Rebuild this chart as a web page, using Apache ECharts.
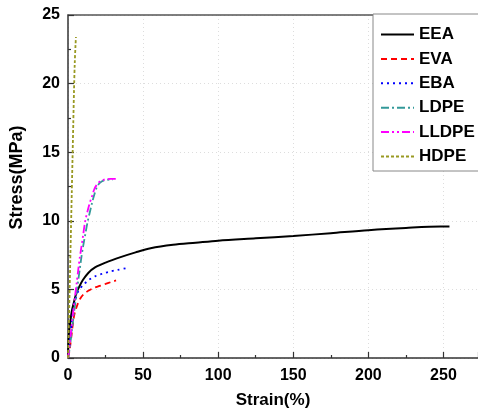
<!DOCTYPE html>
<html>
<head>
<meta charset="utf-8">
<script src="https://cdn.jsdelivr.net/npm/echarts@6/dist/echarts.min.js"></script>
<style>html,body{margin:0;padding:0;background:#fff;}#c{width:478px;height:419px;}</style>
</head>
<body>
<div id="c"></div>
<script>
const seriesNames = ['EEA', 'EVA', 'EBA', 'LDPE', 'LLDPE', 'HDPE'];
const xTicks = [0, 50, 100, 150, 200, 250];
const yTicks = [0, 5, 10, 15, 20, 25];

const eea = [[0,0],[0.3,1.0],[0.8,2.0],[1.5,2.6],[2.5,3.4],[3.8,4.0],[5.5,4.7],[7.5,5.2],[10,5.7],[13.5,6.2],[18,6.6],[25,6.95],[35,7.35],[45,7.7],[55,8.0],[70,8.25],[85,8.4],[100,8.55],[125,8.72],[150,8.89],[175,9.1],[200,9.32],[225,9.48],[248,9.58],[254,9.58]];
const eva = [[0,0],[0.8,0.4],[1.5,0.9],[2.5,1.8],[3.5,2.7],[4.5,3.3],[6,3.8],[8,4.3],[10,4.6],[13.5,4.9],[17,5.1],[21,5.25],[25,5.4],[29,5.55],[32,5.65]];
const eba = [[0,0],[0.8,0.6],[1.5,1.4],[2.5,2.6],[3.5,3.5],[5,4.3],[7,4.9],[10,5.3],[14,5.7],[18,5.95],[23,6.15],[28,6.3],[33,6.42],[39,6.55]];
const ldpe = [[0,0],[1,0.6],[2,1.5],[3,2.4],[4,3.3],[5,4.1],[6,5.0],[7,5.8],[8,6.6],[9,7.4],[10,8.1],[11.5,9.0],[13,9.9],[14.5,10.6],[16,11.3],[17.5,11.9],[19,12.4],[21,12.75],[24,12.95],[28,13.0],[30,13.0]];
const lldpe = [[0,0],[0.8,0.7],[1.8,1.7],[2.8,2.7],[3.8,3.7],[4.8,4.6],[5.8,5.5],[6.8,6.4],[7.8,7.3],[8.8,8.0],[10,8.9],[11.5,10.0],[13,10.7],[14.5,11.3],[16,11.8],[17.5,12.3],[19,12.6],[21,12.85],[24,13.0],[28,13.05],[33,13.05]];
const hdpe = [[0,0],[0.5,2],[1,4.5],[1.5,7],[2,9.5],[2.5,12],[3,14.5],[3.5,17],[4,19.5],[4.5,21.5],[5,22.8],[5.3,23.4]];

const seriesData = [eea, eva, eba, ldpe, lldpe, hdpe];
const colors = ['#000000', '#ff0000', '#0000ff', '#339999', '#ff00ff', '#999922'];
const dashes = ['solid', [6,4], [2,4], [8,3,2,3], [8,3,2,3,2,3], [3,2]];

const FONT = '"Liberation Sans", Arial, sans-serif';
const chart = echarts.init(document.getElementById('c'), null, {renderer: 'canvas'});
chart.setOption({
  animation: false,
  backgroundColor: '#fff',
  grid: {left: 66, top: 15, right: 0, bottom: 61, containLabel: false},
  legend: {
    orient: 'vertical',
    left: 373, top: 14,
    padding: [12, 4, 6, 7],
    itemWidth: 33, itemHeight: 17, itemGap: 7.4,
    borderColor: '#888', borderWidth: 1,
    backgroundColor: '#fff',
    itemStyle: {opacity: 0},
    data: seriesNames,
    textStyle: {fontFamily: FONT, fontWeight: 'bold', fontSize: 17, color: '#000', lineHeight: 17}
  },
  xAxis: [{
    type: 'value', min: 0, max: 273, interval: 50,
    name: 'Strain(%)', nameLocation: 'middle', nameGap: 34,
    nameTextStyle: {fontFamily: FONT, fontWeight: 'bold', fontSize: 17, color: '#000'},
    axisLine: {show: true, lineStyle: {color: '#333', width: 1.5}},
    axisTick: {show: true, inside: true, length: 6, lineStyle: {color: '#333', width: 1.2}},
    minorTick: {show: true, splitNumber: 2, length: 3, lineStyle: {color: '#333', width: 1.2}},
    axisLabel: {fontFamily: FONT, fontWeight: 'bold', fontSize: 16, color: '#000', margin: 10, showMaxLabel: false,
      formatter: v => xTicks.includes(v) ? String(v) : ''},
    splitLine: {show: true, lineStyle: {color: '#ddd', type: [1,3], width: 1}}
  }, {
    type: 'value', min: 0, max: 273, position: 'top',
    axisLine: {show: true, lineStyle: {color: '#555', width: 1.5}},
    axisTick: {show: false}, axisLabel: {show: false}, splitLine: {show: false}
  }],
  yAxis: {
    type: 'value', min: 0, max: 25, interval: 5,
    name: 'Stress(MPa)', nameLocation: 'middle', nameGap: 42, nameRotate: 90,
    nameTextStyle: {fontFamily: FONT, fontWeight: 'bold', fontSize: 18, color: '#000', padding: [0, 0, 0, 18]},
    axisLine: {show: true, lineStyle: {color: '#333', width: 1.5}},
    axisTick: {show: true, inside: true, length: 6, lineStyle: {color: '#333', width: 1.2}},
    minorTick: {show: true, splitNumber: 2, length: 3, lineStyle: {color: '#333', width: 1.2}},
    axisLabel: {fontFamily: FONT, fontWeight: 'bold', fontSize: 16, color: '#000', margin: 8,
      formatter: v => yTicks.includes(v) ? String(v) : ''},
    splitLine: {show: true, lineStyle: {color: '#ddd', type: [1,3], width: 1}}
  },
  series: seriesNames.map((n, i) => ({
    name: n, type: 'line', data: seriesData[i], showSymbol: false, symbol: 'none',
    smooth: 0.3, xAxisIndex: 0,
    lineStyle: {color: colors[i], width: i === 0 ? 2 : 1.8, type: dashes[i]},
    itemStyle: {color: colors[i]}
  }))
});
</script>
</body>
</html>
